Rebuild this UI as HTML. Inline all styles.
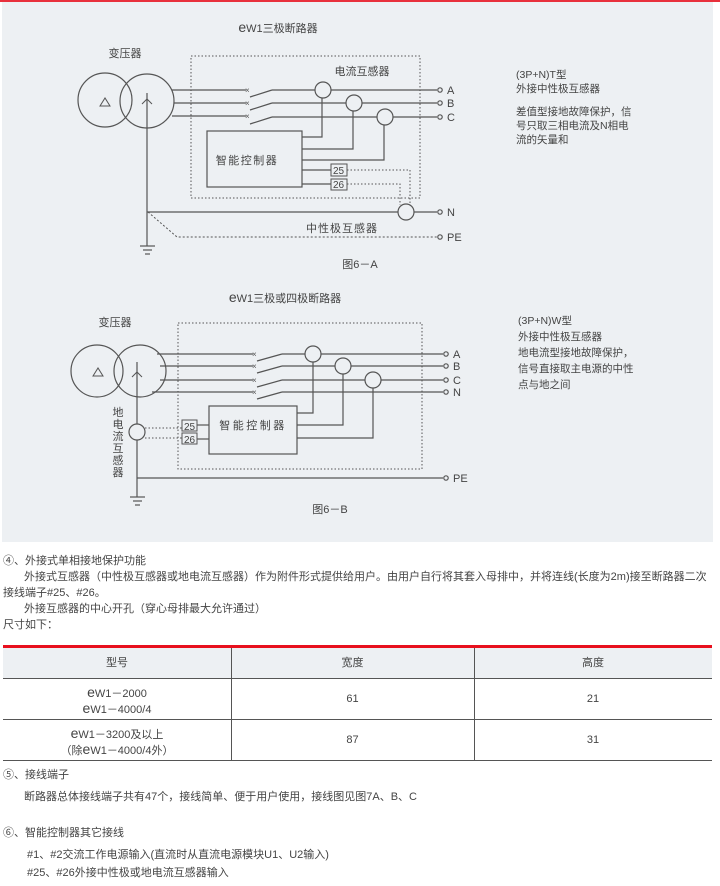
<!DOCTYPE html>
<html><head><meta charset="utf-8"><style>
body{margin:0;width:720px;height:886px;background:#fff;overflow:hidden;font-family:"Liberation Sans","Noto Sans CJK SC",sans-serif;color:#444;}
.t{position:absolute;font-size:11px;white-space:nowrap;line-height:14px;}
</style></head><body>
<div style="position:absolute;left:0;top:0;width:720px;height:2px;background:#e8303c"></div>
<div style="position:absolute;left:2px;top:2px;width:711px;height:540px;background:#edf0f3"></div>
<svg style="position:absolute;left:0;top:0" width="720" height="886" font-family="Liberation Sans, Noto Sans CJK SC, sans-serif" font-size="11" fill="#444">
<g stroke="#555" stroke-width="1.2" fill="none">
<!-- Diagram A -->
<rect x="191" y="56" width="229" height="142" stroke-dasharray="1.5,2" stroke-width="1"/>
<circle cx="105" cy="100" r="27"/><circle cx="147" cy="101" r="27"/>
<path d="M140 98 L135 103 L131 103 Z" stroke="none"/>
<line x1="172" y1="90" x2="246" y2="90"/><line x1="174" y1="103" x2="246" y2="103"/><line x1="172" y1="116" x2="246" y2="116"/>
<line x1="250" y1="97" x2="272" y2="90"/><line x1="272" y1="90" x2="437" y2="90"/>
<line x1="250" y1="110" x2="272" y2="103"/><line x1="272" y1="103" x2="437" y2="103"/>
<line x1="250" y1="124" x2="272" y2="117"/><line x1="272" y1="117" x2="437" y2="117"/>
<circle cx="323" cy="90" r="8" fill="#edf0f3"/><circle cx="354" cy="103" r="8" fill="#edf0f3"/><circle cx="385" cy="117" r="8" fill="#edf0f3"/>
<circle cx="440" cy="90" r="2.2"/><circle cx="440" cy="103" r="2.2"/><circle cx="440" cy="117" r="2.2"/>
<rect x="207" y="131" width="95" height="56"/>
<polyline points="322,98 322,137 302,137"/><polyline points="353,111 353,149 302,149"/><polyline points="384,125 384,160 302,160"/>
<line x1="302" y1="170" x2="331" y2="170"/><line x1="302" y1="184" x2="331" y2="184"/>
<rect x="331" y="164" width="16" height="12" stroke-width="1"/><rect x="331" y="179" width="16" height="11" stroke-width="1"/>
<polyline points="347,170 410,170 410,205" stroke-dasharray="1.5,2" stroke-width="1"/>
<polyline points="347,184 400,184 400,205" stroke-dasharray="1.5,2" stroke-width="1"/>
<line x1="147" y1="212" x2="437" y2="212"/>
<circle cx="406" cy="212" r="8" fill="#edf0f3"/><circle cx="440" cy="212" r="2.2"/>
<line x1="147" y1="93" x2="147" y2="246"/>
<line x1="140" y1="246" x2="155" y2="246"/><line x1="143" y1="250" x2="152" y2="250"/><line x1="145" y1="254" x2="150" y2="254"/>
<polyline points="148,212 177,237 437,237" stroke-dasharray="2,2" stroke-width="1"/><circle cx="440" cy="237" r="2.2"/>
<path d="M100 106 L105 98 L110 106 Z" stroke-width="1"/>
<path d="M142 104 L147 99 L152 104" stroke-width="1"/>
<!-- Diagram B -->
<rect x="178" y="323" width="244" height="146" stroke-dasharray="1.5,2" stroke-width="1"/>
<circle cx="97" cy="371" r="26"/><circle cx="140" cy="371" r="26"/>
<path d="M93 376 L98 368 L103 376 Z" stroke-width="1"/>
<path d="M132 377 L137 372 L142 377" stroke-width="1"/>
<line x1="157" y1="354" x2="253" y2="354"/><line x1="160" y1="366" x2="253" y2="366"/><line x1="160" y1="380" x2="253" y2="380"/><line x1="152" y1="392" x2="253" y2="392"/>
<line x1="257" y1="361" x2="282" y2="354"/><line x1="282" y1="354" x2="443" y2="354"/>
<line x1="257" y1="373" x2="282" y2="366"/><line x1="282" y1="366" x2="443" y2="366"/>
<line x1="257" y1="387" x2="282" y2="380"/><line x1="282" y1="380" x2="443" y2="380"/>
<line x1="257" y1="399" x2="282" y2="392"/><line x1="282" y1="392" x2="443" y2="392"/>
<circle cx="313" cy="354" r="8" fill="#edf0f3"/><circle cx="343" cy="366" r="8" fill="#edf0f3"/><circle cx="373" cy="380" r="8" fill="#edf0f3"/>
<circle cx="446" cy="354" r="2.2"/><circle cx="446" cy="366" r="2.2"/><circle cx="446" cy="380" r="2.2"/><circle cx="446" cy="392" r="2.2"/>
<rect x="209" y="406" width="88" height="48"/>
<polyline points="313,362 313,413 297,413"/><polyline points="343,374 343,425 297,425"/><polyline points="373,388 373,438 297,438"/>
<rect x="182" y="420" width="15" height="11" stroke-width="1"/><rect x="182" y="433" width="15" height="11" stroke-width="1"/>
<line x1="197" y1="425" x2="209" y2="425"/><line x1="197" y1="439" x2="209" y2="439"/>
<line x1="137" y1="362" x2="137" y2="497"/>
<circle cx="137" cy="432" r="8" fill="#edf0f3"/>
<line x1="145" y1="428" x2="182" y2="428" stroke-dasharray="1.5,2" stroke-width="1"/>
<line x1="145" y1="438" x2="182" y2="438" stroke-dasharray="1.5,2" stroke-width="1"/>
<line x1="137" y1="478" x2="443" y2="478"/><circle cx="446" cy="478" r="2.2"/>
<line x1="130" y1="497" x2="145" y2="497"/><line x1="133" y1="501" x2="142" y2="501"/><line x1="135" y1="505" x2="140" y2="505"/>
</g>
<g fill="#555" font-size="8"><text x="245" y="93">×</text><text x="245" y="106">×</text><text x="245" y="119">×</text>
<text x="252" y="357">×</text><text x="252" y="369">×</text><text x="252" y="383">×</text><text x="252" y="395">×</text></g>
<text x="278" y="32" text-anchor="middle"><tspan font-size="14">e</tspan>W1三极断路器</text>
<text x="125" y="57" text-anchor="middle">变压器</text>
<text x="362" y="75" text-anchor="middle">电流互感器</text>
<text x="247" y="164" text-anchor="middle" letter-spacing="1.5">智能控制器</text>
<text x="333" y="174" font-size="10">25</text><text x="333" y="188" font-size="10">26</text>
<text x="447" y="94">A</text><text x="447" y="107">B</text><text x="447" y="121">C</text><text x="447" y="216">N</text><text x="447" y="241">PE</text>
<text x="342" y="232" text-anchor="middle" letter-spacing="1">中性极互感器</text>
<text x="360" y="268" text-anchor="middle">图6－A</text>
<text x="285" y="302" text-anchor="middle"><tspan font-size="14">e</tspan>W1三极或四极断路器</text>
<text x="115" y="326" text-anchor="middle">变压器</text>
<text x="253" y="429" text-anchor="middle" letter-spacing="2.5">智能控制器</text>
<text x="184" y="430" font-size="10">25</text><text x="184" y="443" font-size="10">26</text>
<text x="453" y="358">A</text><text x="453" y="370">B</text><text x="453" y="384">C</text><text x="453" y="396">N</text><text x="453" y="482">PE</text>
<g text-anchor="middle"><text x="118" y="416">地</text><text x="118" y="428">电</text><text x="118" y="440">流</text><text x="118" y="452">互</text><text x="118" y="464">感</text><text x="118" y="476">器</text></g>
<text x="330" y="513" text-anchor="middle">图6－B</text>
<g font-size="10.5"><text x="516" y="78">(3P+N)T型</text><text x="516" y="92">外接中性极互感器</text>
<text x="516" y="115">差值型接地故障保护，信</text><text x="516" y="129">号只取三相电流及N相电</text><text x="516" y="143">流的矢量和</text>
<text x="518" y="324">(3P+N)W型</text><text x="518" y="340">外接中性极互感器</text><text x="518" y="356">地电流型接地故障保护，</text><text x="518" y="372">信号直接取主电源的中性</text><text x="518" y="388">点与地之间</text></g>
</svg>
<div class="t" style="left:3px;top:554px">④、外接式单相接地保护功能</div>
<div class="t" style="left:24px;top:570px">外接式互感器（中性极互感器或地电流互感器）作为附件形式提供给用户。由用户自行将其套入母排中，并将连线(长度为2m)接至断路器二次</div>
<div class="t" style="left:3px;top:586px">接线端子#25、#26。</div>
<div class="t" style="left:24px;top:602px">外接互感器的中心开孔（穿心母排最大允许通过）</div>
<div class="t" style="left:3px;top:618px">尺寸如下：</div>
<div style="position:absolute;left:3px;top:645px;width:709px;height:3px;background:#e8101e"></div>
<div style="position:absolute;left:3px;top:648px;width:709px;height:30px;background:#edf0f3"></div>
<div style="position:absolute;left:3px;top:678px;width:709px;height:1px;background:#555"></div>
<div style="position:absolute;left:3px;top:719px;width:709px;height:1px;background:#555"></div>
<div style="position:absolute;left:3px;top:760px;width:709px;height:1px;background:#555"></div>
<div style="position:absolute;left:231px;top:648px;width:1px;height:112px;background:#555"></div>
<div style="position:absolute;left:474px;top:648px;width:1px;height:112px;background:#555"></div>
<div class="t" style="left:3px;width:228px;text-align:center;top:656px">型号</div>
<div class="t" style="left:231px;width:243px;text-align:center;top:656px">宽度</div>
<div class="t" style="left:474px;width:238px;text-align:center;top:656px">高度</div>
<div class="t" style="left:3px;width:228px;text-align:center;top:685px"><span style="font-size:14px">e</span>W1－2000<br><span style="font-size:14px">e</span>W1－4000/4</div>
<div class="t" style="left:231px;width:243px;text-align:center;top:692px">61</div>
<div class="t" style="left:474px;width:238px;text-align:center;top:692px">21</div>
<div class="t" style="left:3px;width:228px;text-align:center;top:726px"><span style="font-size:14px">e</span>W1－3200及以上<br>（除<span style="font-size:14px">e</span>W1－4000/4外）</div>
<div class="t" style="left:231px;width:243px;text-align:center;top:733px">87</div>
<div class="t" style="left:474px;width:238px;text-align:center;top:733px">31</div>
<div class="t" style="left:3px;top:768px">⑤、接线端子</div>
<div class="t" style="left:24px;top:790px">断路器总体接线端子共有47个，接线简单、便于用户使用，接线图见图7A、B、C</div>
<div class="t" style="left:3px;top:826px">⑥、智能控制器其它接线</div>
<div class="t" style="left:27px;top:848px">#1、#2交流工作电源输入(直流时从直流电源模块U1、U2输入)</div>
<div class="t" style="left:27px;top:866px">#25、#26外接中性极或地电流互感器输入</div>
</body></html>
